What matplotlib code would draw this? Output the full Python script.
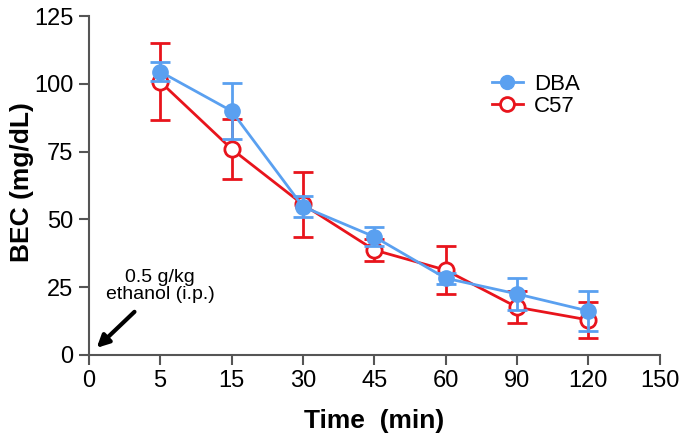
import matplotlib
matplotlib.use("Agg")
from matplotlib import pyplot as plt
from matplotlib.lines import Line2D

plt.rcParams['font.family'] = ['Liberation Sans', 'DejaVu Sans']

time_labels = ['0', '5', '15', '30', '45', '60', '90', '120', '150']
sample_times = ['5', '15', '30', '45', '60', '90', '120']
dba_mean = [104.5, 90, 54.7, 43.6, 28.3, 22.5, 16.2]
dba_sem = [3.5, 10.5, 4, 3.5, 2, 6, 7.5]
c57_mean = [100.8, 76, 55.5, 38.7, 31.3, 17.6, 12.9]
c57_sem = [14.3, 11, 12, 4, 9, 6, 6.5]

blue = '#5aa0f0'
red = '#e8141c'

pos = [time_labels.index(t) for t in sample_times]

fig = plt.figure(figsize=(6.83, 4.47), dpi=100)
ax = fig.add_axes([0.130, 0.206, 0.836, 0.758])

ax.errorbar(pos, c57_mean, yerr=c57_sem, color=red, marker='o', markersize=11,
            markerfacecolor='white', markeredgecolor=red, markeredgewidth=2,
            linewidth=2, capsize=7, capthick=2, elinewidth=2, zorder=3)
ax.errorbar(pos, dba_mean, yerr=dba_sem, color=blue, marker='o', markersize=11,
            markerfacecolor=blue, markeredgecolor=blue,
            linewidth=2, capsize=7, capthick=2, elinewidth=2, zorder=4)

ax.set_xlim(0, len(time_labels) - 1)
ax.set_ylim(0, 125)
ax.set_xticks(range(len(time_labels)))
ax.set_xticklabels(time_labels)
ax.set_yticks([0, 25, 50, 75, 100, 125])

for side in ['top', 'right']:
    ax.spines[side].set_visible(False)
for side in ['left', 'bottom']:
    ax.spines[side].set_color('#555555')
    ax.spines[side].set_linewidth(1.5)
ax.tick_params(axis='both', direction='out', length=7, width=1.5, color='#555555',
               labelsize=17, pad=4)

ax.set_xlabel('Time  (min)', fontsize=19, fontweight='bold', labelpad=12)
ax.set_ylabel('BEC (mg/dL)', fontsize=19, fontweight='bold')
ax.yaxis.set_label_coords(-0.096, 0.51)

handles = [
    Line2D([], [], color=blue, marker='o', markersize=10, markerfacecolor=blue, linewidth=2),
    Line2D([], [], color=red, marker='o', markersize=10, markerfacecolor='white',
           markeredgewidth=2, linewidth=2),
]
ax.legend(handles, ['DBA', 'C57'], loc='upper left', bbox_to_anchor=(0.69, 0.855),
          frameon=False, fontsize=16, handlelength=1.4, handletextpad=0.5,
          labelspacing=0.05, borderaxespad=0)

ax.text(1.0, 19, '0.5 g/kg\nethanol (i.p.)', ha='center', va='bottom', fontsize=14,
        multialignment='center', linespacing=1.05)
ax.annotate('', xy=(0.11, 2.6), xytext=(0.64, 15.9),
            arrowprops=dict(arrowstyle='-|>', color='black', lw=3, mutation_scale=18,
                            shrinkA=0, shrinkB=0))

fig.savefig('out.png', dpi=100)
